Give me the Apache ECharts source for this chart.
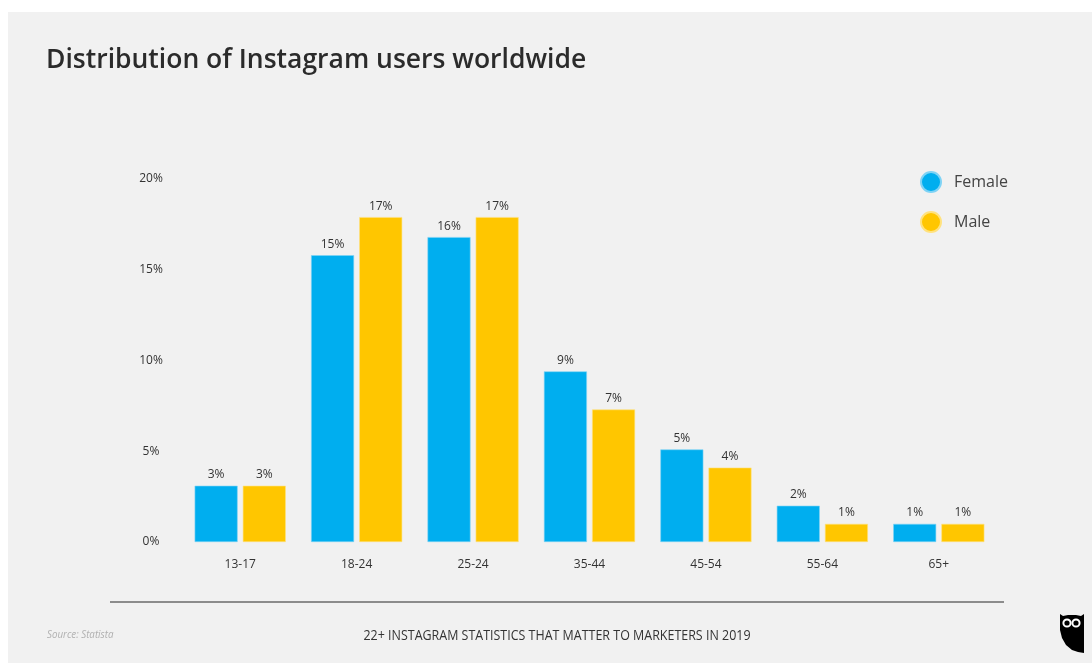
<!DOCTYPE html>
<html>
<head>
<meta charset="utf-8">
<script src="https://cdn.jsdelivr.net/npm/echarts@6/dist/echarts.min.js"></script>
<style>
html,body{margin:0;padding:0;background:#fff;}
#chart{width:1092px;height:663px;}
</style>
</head>
<body>
<div id="chart"></div>
<script>
const categories = ['13-17', '18-24', '25-24', '35-44', '45-54', '55-64', '65+'];
const femaleValues = [3.1, 15.8, 16.8, 9.4, 5.1, 2.0, 1.0];
const maleValues = [3.1, 17.9, 17.9, 7.3, 4.1, 1.0, 1.0];
const femaleLabels = ['3%', '15%', '16%', '9%', '5%', '2%', '1%'];
const maleLabels = ['3%', '17%', '17%', '7%', '4%', '1%', '1%'];
const yTicks = [0, 5, 10, 15, 20];

const FONT = "'Open Sans', 'Noto Sans', sans-serif";
const chart = echarts.init(document.getElementById('chart'));

function labelFor(arr) {
  return {
    show: true, position: 'top', distance: 5,
    color: '#333', fontFamily: FONT, fontSize: 12,
    formatter: p => arr[p.dataIndex]
  };
}

chart.setOption({
  backgroundColor: '#ffffff',
  animation: false,
  graphic: [
    { type: 'rect', x: 8, y: 12, shape: { x: 0, y: 0, width: 1084, height: 651 }, style: { fill: '#f1f1f1' }, z: -10 },
    { type: 'line', shape: { x1: 110, y1: 602, x2: 1004, y2: 602 }, style: { stroke: '#8c8c8c', lineWidth: 2 } },
    { type: 'text', x: 47, y: 635, scaleX: 0.85, style: { text: 'Source: Statista', fill: '#b0b0b0', verticalAlign: 'middle', font: "italic 11.5px 'Open Sans', sans-serif" } },
    { type: 'text', x: 557, y: 636, scaleX: 0.89, style: { text: '22+ INSTAGRAM STATISTICS THAT MATTER TO MARKETERS IN 2019', fill: '#333', align: 'center', verticalAlign: 'middle', font: "14px 'Open Sans', sans-serif" } },
    { type: 'group', x: 1060, y: 614, children: [
      { type: 'polygon', shape: { points: [[0,0],[3,2],[8,1],[16,1],[21,2],[24,0],[24,39],[18,38],[12,36],[6,31],[2,24],[0,16]] }, style: { fill: '#000' } },
      { type: 'circle', shape: { cx: 7, cy: 9, r: 3.6 }, style: { fill: '#000', stroke: '#fff', lineWidth: 2 } },
      { type: 'circle', shape: { cx: 16, cy: 9, r: 3.6 }, style: { fill: '#000', stroke: '#fff', lineWidth: 2 } }
    ]}
  ],
  title: {
    text: 'Distribution of Instagram users worldwide',
    left: 41, top: 42,
    textStyle: { fontFamily: FONT, fontSize: 26.5, fontWeight: 600, color: '#2b2b2b' }
  },
  legend: {
    orient: 'vertical',
    left: 915, top: 166,
    itemWidth: 20, itemHeight: 20, itemGap: 18,
    icon: 'circle',
    textStyle: { fontFamily: FONT, fontSize: 16, color: '#444', padding: [0, 0, 0, 8] },
    data: ['Female', 'Male']
  },
  grid: { left: 182, right: 95, top: 179, bottom: 121, containLabel: false },
  xAxis: {
    type: 'category',
    data: categories,
    axisLine: { show: false },
    axisTick: { show: false },
    axisLabel: { color: '#333', fontFamily: FONT, fontSize: 12, margin: 17 }
  },
  yAxis: {
    type: 'value',
    min: yTicks[0], max: yTicks[yTicks.length - 1], interval: 5,
    splitLine: { show: false },
    axisLine: { show: false },
    axisTick: { show: false },
    axisLabel: { color: '#333', fontFamily: FONT, fontSize: 12, align: 'center', margin: 31, formatter: v => v + '%' }
  },
  series: [
    { name: 'Female', type: 'bar', data: femaleValues, barWidth: 43, barGap: '12%',
      itemStyle: { color: '#00aeef', borderColor: '#7fd3f5', borderWidth: 0.6 }, label: labelFor(femaleLabels) },
    { name: 'Male', type: 'bar', data: maleValues, barWidth: 43,
      itemStyle: { color: '#ffc600', borderColor: '#ffe27f', borderWidth: 0.6 }, label: labelFor(maleLabels) }
  ]
});
</script>
</body>
</html>
